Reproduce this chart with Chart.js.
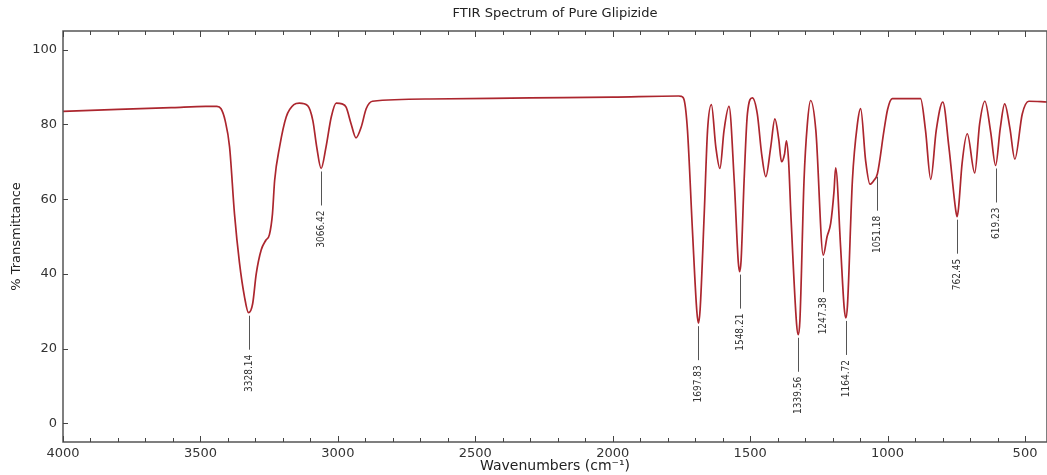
<!DOCTYPE html>
<html><head><meta charset="utf-8">
<script src="https://cdn.jsdelivr.net/npm/chart.js@4.4.1/dist/chart.umd.min.js"></script>
<style>html,body{margin:0;padding:0;background:#fff;}#wrap{width:1047px;height:475px;position:relative;}</style>
</head><body><div id="wrap"><canvas id="c"></canvas></div>
<script>
// ---- data ----
const wavenumbers = [4000,3800,3600,3480,3440,3425,3410,3394,3376,3358,3340,3325,3310,3297,3279,3262,3249,3238,3230,3212,3188,3160,3140,3110,3091,3077,3061,3043,3024,3006,2985,2970,2952,2934,2915,2897,2874,2667,2300,2000,1760,1750,1740,1728,1710,1694,1688,1682,1667,1655,1641,1625,1610,1595,1577,1558,1543,1538,1533,1522,1510,1492,1474,1458,1443,1425,1410,1396,1386,1375,1368,1360,1352,1331,1325,1319,1304,1292,1280,1261,1234,1220,1207,1195,1189,1171,1158,1152,1146,1128,1110,1098,1080,1064,1050,1037,1013,1000,983,880,862,843,823,799,777,752,747,742,729,710,683,665,646,625,607,590,574,555,537,510,486,420];
const transmittance = [83.5,84.0,84.5,84.8,84.8,84.2,81,74,56,43,34,29.6,32,40,46.4,49,50.5,56,65,74,82,85.3,85.7,85,81,74,68.2,74,82,85.7,85.5,84.6,80.2,76.4,79.3,84.2,86.2,86.8,87.1,87.3,87.6,87.5,86.5,78.4,51.7,30,26.8,30.5,56.2,78.4,85.3,74,68.2,78.4,84.8,65,43,40.6,43.5,65,82.8,87.1,82.8,72,66,74,81.5,76,70,72,75.6,70,56.2,26.5,23.7,27.5,65,80,86.4,78.4,45,50,53.5,62,68.4,47.3,31,28.2,31.5,65,80,84.2,70.4,64,65,66.8,78.4,84,86.9,86.9,78.4,65.3,78.4,86,74,57,55.3,57.5,69.5,77.5,67,80.2,86.2,78,69,79,85.5,79,70.7,82.8,86.2,86];
const peakPositions = [3325,3061,1688,1538,1325,1234,1152,1037,747,607];
const peakValues = [29.6,68.2,26.8,40.6,23.7,45,28.2,66.8,55.3,69];
const peakLabels = ['3328.14','3066.42','1697.83','1548.21','1339.56','1247.38','1164.72','1051.18','762.45','619.23'];
const xTickValues = [4000,3500,3000,2500,2000,1500,1000,500];
const yTickValues = [0,20,40,60,80,100];
const chartTitle = 'FTIR Spectrum of Pure Glipizide';
const xTitle = 'Wavenumbers (cm\u207B\u00B9)';
const yTitle = '% Transmittance';

const FONT = "'DejaVu Sans', 'Liberation Sans', sans-serif";
const points = wavenumbers.map((w, i) => ({x: w, y: transmittance[i]}));

const framePlugin = {
  id: 'frame',
  afterDraw(chart) {
    const {ctx, chartArea: a, scales: {x, y}} = chart;
    ctx.save();
    ctx.strokeStyle = '#555';
    ctx.lineWidth = 1.5;
    ctx.strokeRect(a.left, a.top, a.right - a.left, a.bottom - a.top);
    ctx.lineWidth = 1;
    ctx.strokeStyle = '#444';
    ctx.beginPath();
    for (let v = 4000; v >= x.min; v -= 100) {
      const px = Math.round(x.getPixelForValue(v)) + 0.5;
      const len = v % 500 === 0 ? 6 : 4;
      ctx.moveTo(px, a.bottom); ctx.lineTo(px, a.bottom - len);
      ctx.moveTo(px, a.top); ctx.lineTo(px, a.top + len);
    }
    yTickValues.forEach(v => {
      const py = Math.round(y.getPixelForValue(v)) + 0.5;
      ctx.moveTo(a.left, py); ctx.lineTo(a.left + 5, py);
    });
    ctx.stroke();
    ctx.restore();
  }
};

const peakPlugin = {
  id: 'peaks',
  afterDatasetsDraw(chart) {
    const {ctx, scales: {x, y}} = chart;
    ctx.save();
    ctx.strokeStyle = '#555';
    ctx.lineWidth = 1;
    ctx.fillStyle = '#333';
    ctx.font = "10px 'DejaVu Sans Condensed', 'Liberation Sans Narrow', 'DejaVu Sans', sans-serif";
    peakPositions.forEach((p, i) => {
      const px = Math.round(x.getPixelForValue(p)) + 0.5;
      const py = y.getPixelForValue(peakValues[i]);
      ctx.beginPath();
      ctx.moveTo(px, py + 3);
      ctx.lineTo(px, py + 37);
      ctx.stroke();
      ctx.save();
      ctx.translate(px, py + 42);
      ctx.rotate(-Math.PI / 2);
      ctx.textAlign = 'right';
      ctx.textBaseline = 'middle';
      ctx.fillText(peakLabels[i], 0, 0);
      ctx.restore();
    });
    ctx.restore();
  }
};

new Chart(document.getElementById('c'), {
  type: 'line',
  data: {
    datasets: [{
      data: points,
      borderColor: 'rgb(172,38,46)',
      borderWidth: 1.7,
      pointRadius: 0,
      fill: false,
      cubicInterpolationMode: 'monotone'
    }]
  },
  options: {
    responsive: true,
    maintainAspectRatio: false,
    animation: false,
    events: [],
    layout: {padding: {left: 0, right: 0, top: 0, bottom: 0}},
    plugins: {
      legend: {display: false},
      tooltip: {enabled: false},
      title: {
        display: true,
        fullSize: false,
        text: chartTitle,
        color: '#222',
        font: {family: FONT, size: 13, weight: 'normal'},
        padding: {top: 6, bottom: 9.4}
      }
    },
    scales: {
      x: {
        type: 'linear',
        reverse: true,
        min: 420,
        max: 4000,
        afterBuildTicks: s => { s.ticks = xTickValues.map(v => ({value: v})); },
        afterFit: s => { s.height = 33; },
        grid: {display: false, drawTicks: false},
        border: {display: false},
        ticks: {color: '#333', font: {family: FONT, size: 13}, padding: 4, maxRotation: 0, autoSkip: false,
                callback: v => String(v)},
        title: {display: true, text: xTitle, color: '#222', font: {family: FONT, size: 14}, padding: {top: 0, bottom: 0}}
      },
      y: {
        min: -5,
        max: 105,
        afterBuildTicks: s => { s.ticks = yTickValues.map(v => ({value: v})); },
        afterFit: s => { s.width = 63; },
        grid: {display: false, drawTicks: false},
        border: {display: false},
        ticks: {color: '#333', font: {family: FONT, size: 13}, padding: 6, callback: v => String(v)},
        title: {display: true, text: yTitle, color: '#222', font: {family: FONT, size: 13}, padding: {top: 9, bottom: 0}}
      }
    }
  },
  plugins: [framePlugin, peakPlugin]
});
</script></body></html>
